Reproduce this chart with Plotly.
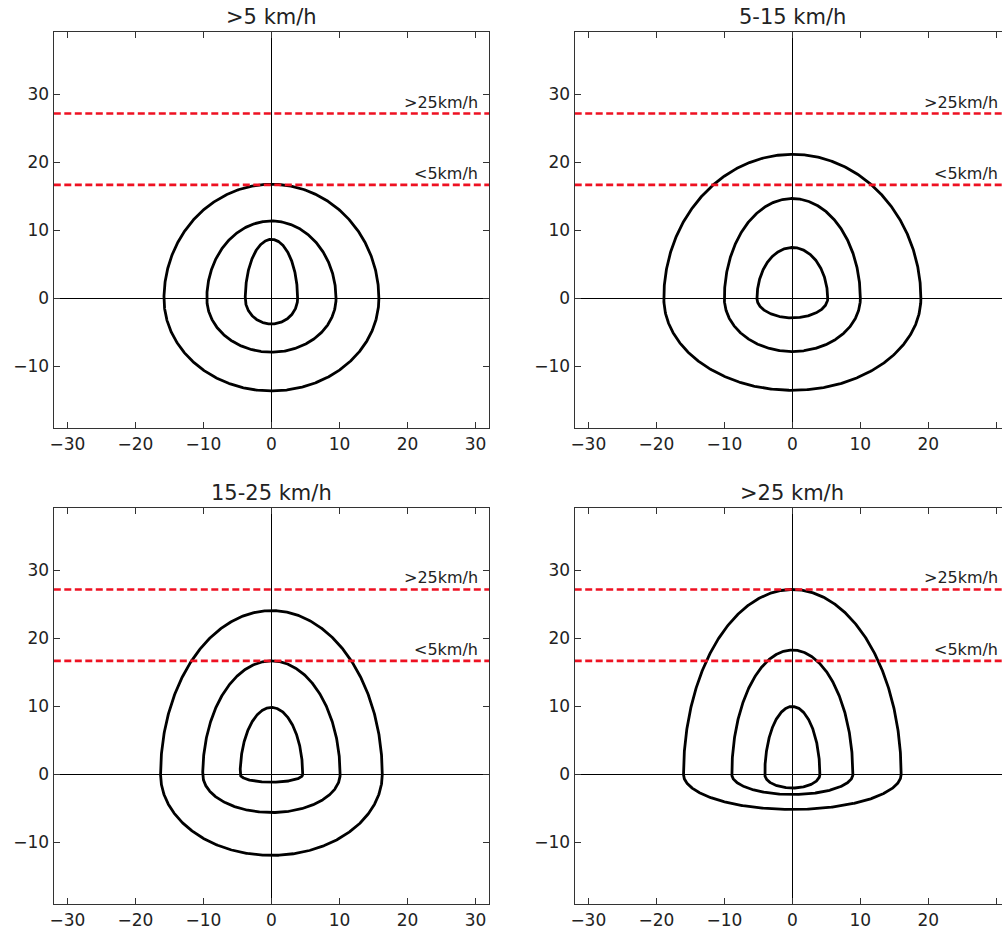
import numpy as np
import plotly.graph_objects as go

# ---- data ----
panel_titles = [">5 km/h", "5-15 km/h", "15-25 km/h", ">25 km/h"]
# each panel: three nested contours (outer, middle, inner)
half_width = [
    [15.8, 9.5, 3.85],
    [18.9, 10.0, 5.2],
    [16.3, 10.1, 4.6],
    [16.0, 8.9, 4.05],
]
top_extent = [
    [16.8, 11.4, 8.7],
    [21.2, 14.7, 7.5],
    [24.1, 16.7, 9.85],
    [27.2, 18.3, 10.0],
]
bottom_extent = [
    [13.6, 7.9, 3.75],
    [13.5, 7.8, 2.85],
    [11.9, 5.6, 1.15],
    [5.15, 2.95, 2.0],
]
ref_levels = [27.2, 16.7]
ref_labels = [">25km/h", "<5km/h"]
x_ticks = [-30, -20, -10, 0, 10, 20, 30]
y_ticks = [-10, 0, 10, 20, 30]

W, H = 1002, 930
FONT = "DejaVu Sans"
TXT = "#222222"

# panel frames in page pixels: (left, right, top, bottom)
frames = [
    (50, 487, 32.3, 429.3),
    (573, 1010, 32.3, 429.3),
    (50, 487, 509.3, 906.3),
    (573, 1010, 509.3, 906.3),
]
x_full = [-32.0, 32.0]
y_full = [-19.1, 39.15]

fig = go.Figure()
theta = np.linspace(0, 2 * np.pi, 721)

for i in range(4):
    xa = "x" if i == 0 else f"x{i+1}"
    ya = "y" if i == 0 else f"y{i+1}"
    for a, t, b in zip(half_width[i], top_extent[i], bottom_extent[i]):
        s = np.sin(theta)
        xs = a * np.cos(theta)
        ys = np.where(s >= 0, t * s, b * s)
        fig.add_trace(go.Scatter(x=xs, y=ys, mode="lines", xaxis=xa, yaxis=ya,
                                 line=dict(color="black", width=2.8),
                                 showlegend=False, hoverinfo="skip"))
    for lvl, lab in zip(ref_levels, ref_labels):
        fig.add_trace(go.Scatter(x=x_full, y=[lvl, lvl], mode="lines", xaxis=xa, yaxis=ya,
                                 line=dict(color="#ee1122", width=2.6, dash="7px,3.5px"),
                                 showlegend=False, hoverinfo="skip"))
        fig.add_annotation(x=30.6, y=lvl, xref=xa, yref=ya, text=lab, showarrow=False,
                           xanchor="right", yanchor="bottom", yshift=0,
                           font=dict(family=FONT, size=16, color=TXT))
    fig.add_annotation(x=0, y=1, xref=xa, yref=f"{ya} domain", text=panel_titles[i],
                       showarrow=False, xanchor="center", yanchor="bottom", yshift=1,
                       font=dict(family=FONT, size=21, color=TXT))

    l, r, tp, bt = frames[i]
    px_per = (frames[0][1] - frames[0][0]) / (x_full[1] - x_full[0])
    r_vis = min(r, W)
    x_hi = x_full[0] + (r_vis - l) / px_per
    right_cut = r > W
    axis_common = dict(ticks="inside", ticklen=6, tickwidth=1, tickcolor="#333",
                       showline=True, linecolor="#333", linewidth=1.4,
                       showgrid=False, zeroline=True, zerolinecolor="black",
                       zerolinewidth=1.2,
                       tickfont=dict(family=FONT, size=17, color=TXT))
    xkey = "xaxis" if i == 0 else f"xaxis{i+1}"
    ykey = "yaxis" if i == 0 else f"yaxis{i+1}"
    fig.update_layout({
        xkey: dict(domain=[l / W, r_vis / W], range=[x_full[0], x_hi], anchor=ya,
                   tickvals=x_ticks, mirror="ticks", **axis_common),
        ykey: dict(domain=[1 - bt / H, 1 - tp / H], range=y_full, anchor=xa,
                   tickvals=y_ticks, mirror=(False if right_cut else "ticks"),
                   **axis_common),
    })

fig.update_layout(width=W, height=H, margin=dict(l=0, r=0, t=0, b=0),
                  plot_bgcolor="white", paper_bgcolor="white",
                  font=dict(family=FONT, color=TXT))
fig.write_html("out.html", config={"displayModeBar": False},
               post_script="document.body.style.margin='0';document.body.style.overflow='hidden';")
